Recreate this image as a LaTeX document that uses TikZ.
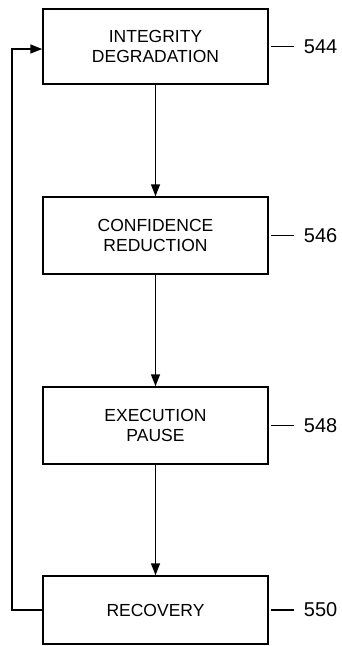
\documentclass[tikz,border=0pt]{standalone}
\usepackage{fontspec}
\setmainfont{Liberation Sans}
\usetikzlibrary{arrows.meta}
\begin{document}
\begin{tikzpicture}[x=1pt,y=-1pt,
  stepbox/.style={draw,line width=1.5pt,minimum width=225pt,align=center,inner sep=0pt,
    font=\fontsize{17.5}{20.5}\selectfont},
  reflabel/.style={anchor=west,inner sep=0pt,font=\fontsize{20}{22}\selectfont},
  conn/.style={line width=1.5pt,-{Triangle[length=12pt,width=9pt]}},
  lead/.style={line width=1.3pt}]
\useasboundingbox (0,0) rectangle (341,646);
\node[stepbox,minimum height=75pt] (b1) at (155.5,46.5) {INTEGRITY\\DEGRADATION};
\node[stepbox,minimum height=77pt] (b2) at (155.5,235.5) {CONFIDENCE\\REDUCTION};
\node[stepbox,minimum height=77pt] (b3) at (155.5,425.5) {EXECUTION\\PAUSE};
\node[stepbox,minimum height=68pt] (b4) at (155.5,610) {RECOVERY};
\draw[conn] (b1) -- (b2);
\draw[conn] (b2) -- (b3);
\draw[conn] (b3) -- (b4);
\coordinate (c1) at (12,610);
\coordinate (c2) at (12,49);
\draw[conn] (b4.west) -- (c1) -- (c2) -- (b1.west |- c2);
\foreach \b/\n in {b1/544,b2/546,b3/548,b4/550}{
  \coordinate (l\b) at ([xshift=2pt]\b.east);
  \coordinate (m\b) at ([xshift=25pt]\b.east);
  \draw[lead] (l\b) -- (m\b);
  \node[reflabel] (t\b) at ([xshift=35pt]\b.east) {\n};
}
\end{tikzpicture}
\end{document}
